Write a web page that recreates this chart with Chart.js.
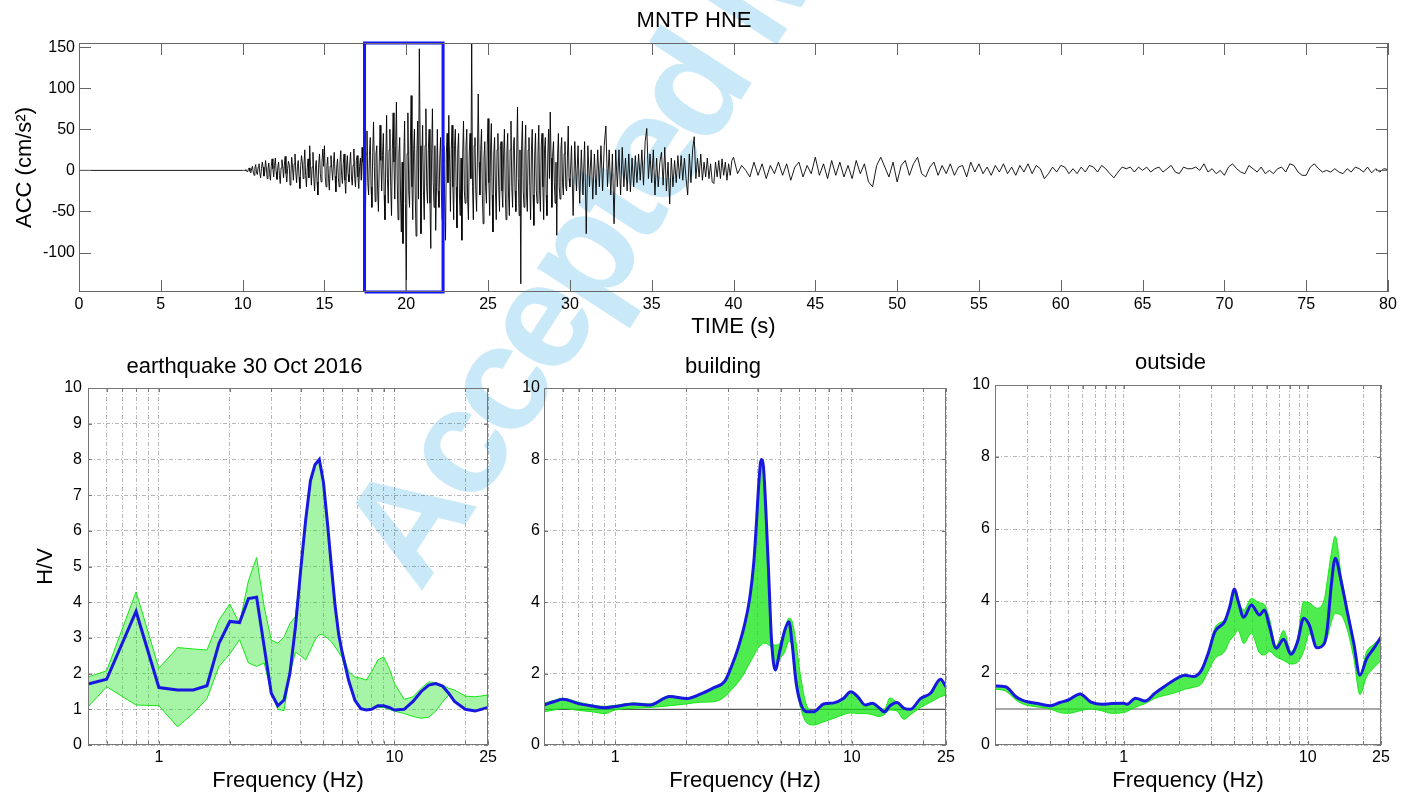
<!DOCTYPE html>
<html>
<head>
<meta charset="utf-8">
<script src="https://cdn.jsdelivr.net/npm/chart.js@4"></script>
<style>
  html, body { margin: 0; padding: 0; background: #fff; }
  body { width: 1411px; height: 794px; position: relative; overflow: hidden; }
  canvas { position: absolute; z-index: 1; }
  #wm {
    position: absolute; left: 420px; top: 467px; z-index: 0;
    font: bold 150px 'Liberation Sans', Arial, sans-serif; line-height: 1;
    letter-spacing: -8px; color: #c9e9f8; white-space: nowrap;
    transform-origin: 0 127px; transform: rotate(-57deg);
  }
</style>
</head>
<body>
<div id="wm">Accepted Manuscript</div>
<canvas id="acc" width="1411" height="340" style="left:0;top:0"></canvas>
<canvas id="hv1" width="500" height="454" style="left:0;top:340px"></canvas>
<canvas id="hv2" width="460" height="454" style="left:500px;top:340px"></canvas>
<canvas id="hv3" width="451" height="454" style="left:960px;top:340px"></canvas>
<script>
// ---- accelerogram MNTP HNE (cm/s^2) ----
const onsetStart = 10.0, onsetStep = 0.05;    // 10.00 .. 29.95 s
const accOnset = [
  0, 0, 0, 0, 1, -1, -2, 1, 3, -1, -3, 2, 5, -2, -6, 3, 7, -3, -5, 4,
  8, -3, -9, 2, 10, 4, -7, -2, 12, 3, -10, 2, 9, -4, -12, 5, 14, 2, -8, 6,
  15, -2, -11, 4, 10, -6, -16, 3, 13, 5, -9, 6, 17, -4, -14, 2, 11, 7, -18, -5,
  16, 4, -12, 8, 20, -3, -15, 5, 12, -8, -22, 6, 18, 9, -10, 7, 25, -6, -20, 3,
  14, -9, 30, 6, -18, 4, 22, -10, -25, 3, 12, -14, -30, 8, 20, -4, -14, 10, 26, 5,
  30, -8, -20, 6, 16, -10, -24, 5, 18, 2, -12, 8, 22, -7, -26, 4, 14, -9, -20, 10,
  24, -6, -16, 8, 20, -12, -28, 4, 18, -5, -14, 9, 22, -8, -18, 6, 26, -10, -20, 12,
  18, -8, -22, 5, 15, -12, 28, 10, -20, -8, -65, 20, 48, -15, -30, 18, 40, -20, -45, 22,
  59, 5, -38, 20, 30, -25, -50, 10, 55, 12, -25, 18, 45, -30, -60, 15, 67, -10, -40, 25,
  50, -20, -55, 25, 70, 10, -35, 30, 83, -15, -60, 20, 40, -30, -75, 10, -89, 15, 60, -40,
  -148, 20, 70, -25, -45, 30, 91, -20, -60, 25, 50, -30, -80, 20, 60, -35, 148, 30, -77, 10,
  55, -25, -60, 30, 75, -20, -40, 25, 50, -40, -95, 20, 75, -15, -45, 30, -73, -20, 50, -25,
  -45, 15, 40, -30, -60, 10, 30, -40, -85, 20, 45, -15, 67, 10, -50, 25, 55, -20, -60, 30,
  50, -20, -70, 25, 45, -30, -55, 15, -85, 20, 60, -25, -40, 30, 50, -35, -60, 20, 45, -10,
  154, -20, -60, 30, 40, -25, -50, 20, 93, 10, -30, 25, 50, -30, -65, 15, 35, -20, -40, 30,
  63, -15, -55, 25, 57, -30, -75, 20, 40, -25, -60, 25, 45, -20, -50, 30, 35, -25, -45, 20,
  50, -25, -60, 20, 45, -30, -55, 25, 60, -20, -45, 30, 40, -25, -50, 20, 77, -10, -55, 25,
  -138, 30, 60, -25, -45, 20, 55, -30, -50, 25, 40, -20, -60, 25, 50, -30, -67, 20, 45, -25,
  -40, 20, 55, -25, -50, 30, 45, -20, -60, 25, 40, -30, -55, 20, 50, -10, 71, 15, -45, 20,
  35, -15, -40, 10, -79, 20, 45, -20, -35, 25, 40, -15, -30, 20, 35, -20, -25, 15, 54, -10
];
const tailStart = 30.0, tailStep = 0.1;       // 30.0 .. 39.9 s
const accTail = [
  -20, 30, -55, 35, -25, 30, -40, 25, -30, 35,
  -77, 30, -20, 25, -35, 20, -30, 25, -20, 30,
  -25, 30, 54, -20, 25, -30, 20, -65, 25, -20,
  25, -30, 28, -20, 15, -25, 20, -26, 15, -20,
  18, -15, 20, -12, 25, -18, 35, 51, -10, 20,
  -15, 25, -30, 15, -20, 10, 22, -18, 28, -25,
  10, -41, 15, -20, 12, -15, 18, -10, 18, -12,
  15, -10, -30, 20, -15, 25, 41, -10, 15, -8,
  20, -12, 10, -8, 15, -10, 8, -14, -16, 10,
  -8, 12, -10, 14, -6, 10, -12, 8, -6, 12
];
const codaStart = 40.0, codaStep = 0.25;      // 40.0 .. 80.0 s
const accCoda = [
  16, -4, 6, 0,   -8, 10, -6, 8,   -10, 6, -4, 10,  -6, 8, -12, 4,
  10, -8, 6, -4,  16, -6, 8, -10,  12, -6, 10, -8,  6, -10, 12, -4,
  8, -14, -20, 6, 16, 4, -8, 10,   -14, 6, 12, -6,  8, 16, -4, -8,
  4, 10, -6, 6,   -4, 8, -6, 4,    6, -8, 10, -2,   8, -4, 4, -6,
  6, -2, 8, -4,   4, -6, 6, -2,    8, -4, 6, 2,     -10, -4, 4, -2,
  6, 4, -4, 2,    -4, 4, -2, 6,    4, -2, 6, 2,     -4, -9, -2, 4,
  2, 4, -2, 4,    0, 4, -2, 2,     4, -2, 2, 6,     -2, -4, 4, 2,
  2, 4, 0, 8,     -2, 2, -4, 0,    -6, 4, 8, 2,     -2, -4, 6, 2,
  -2, 4, -4, 0,   -4, 2, 4, -2,    8, 6, -2, -6,    -6, 4, 8, 2,
  -2, 0, -2, 2,   -2, -4, 2, -2,   4, 2, -2, 4,     -3, 2, -2, 2,
  1
];
const timeTicks = [0, 5, 10, 15, 20, 25, 30, 35, 40, 45, 50, 55, 60, 65, 70, 75, 80];
const accTicks = [-100, -50, 0, 50, 100, 150];
const accRange = [-148, 155];
const windowSec = [17.45, 22.25];

// ---- H/V spectral ratios ----
const f1 = [0.5, 0.6, 0.8, 1.0, 1.2, 1.4, 1.6, 1.8, 2.0, 2.2, 2.4, 2.6, 2.8, 3.0, 3.2, 3.4, 3.6, 3.8, 4.0, 4.2,
  4.4, 4.6, 4.8, 5.0, 5.2, 5.4, 5.6, 5.8, 6.0, 6.4, 6.8, 7.2, 7.6, 8.0, 8.5, 9.0, 9.5, 10, 11, 12,
  13, 14, 15, 16, 17, 18, 20, 22, 25];
const quakeBlue = [1.71, 1.84, 3.74, 1.61, 1.54, 1.54, 1.66, 2.85, 3.46, 3.43,
  4.10, 4.14, 2.75, 1.45, 1.10, 1.26, 2.00, 3.30, 4.90, 6.30,
  7.40, 7.85, 8.00, 7.35, 6.20, 5.00, 3.90, 3.10, 2.60, 1.80,
  1.25, 1.02, 0.98, 1.00, 1.10, 1.10, 1.05, 0.98, 1.00, 1.22,
  1.50, 1.68, 1.72, 1.65, 1.45, 1.22, 1.00, 0.95, 1.05];
const quakeHigh = [1.90, 2.08, 4.29, 2.15, 2.73, 2.69, 2.66, 3.50, 3.95, 3.40,
  4.60, 5.25, 3.87, 2.94, 2.85, 3.03, 3.40, 3.60, 4.90, 6.30,
  7.40, 7.85, 8.00, 7.35, 6.20, 5.00, 3.90, 3.10, 2.60, 2.05,
  1.90, 1.87, 1.82, 2.05, 2.38, 2.47, 2.15, 1.73, 1.28, 1.35,
  1.59, 1.77, 1.74, 1.68, 1.59, 1.54, 1.37, 1.35, 1.40];
const quakeLow = [1.07, 1.63, 1.12, 1.10, 0.51, 0.89, 1.30, 2.20, 2.55, 2.95,
  2.30, 2.20, 2.30, 1.45, 1.00, 0.96, 2.00, 2.60, 2.50, 2.38,
  2.66, 2.94, 3.10, 3.08, 2.99, 2.89, 2.75, 2.60, 2.45, 1.80,
  1.25, 1.02, 0.98, 1.00, 1.05, 1.05, 1.00, 0.95, 0.88, 0.80,
  0.75, 0.78, 0.95, 1.20, 1.40, 1.22, 1.00, 0.95, 1.05];

const f2 = [0.5, 0.55, 0.6, 0.7, 0.8, 0.9, 1.0, 1.2, 1.4, 1.7, 2.0, 2.3, 2.6, 2.9, 3.1, 3.3, 3.5, 3.7, 3.85, 3.95,
  4.05, 4.14, 4.23, 4.33, 4.45, 4.58, 4.75, 4.95, 5.2, 5.42, 5.6, 5.8, 6.05, 6.45, 6.9, 7.6, 8.4, 9.2, 9.9, 10.6,
  11.4, 12.2, 13.0, 13.7, 14.5, 15.5, 16.6, 17.7, 19.5, 21.5, 23.7, 25];
const buildingBlue = [1.12, 1.21, 1.28, 1.16, 1.09, 1.04, 1.08, 1.15, 1.12, 1.36,
  1.30, 1.43, 1.60, 1.78, 2.20, 2.70, 3.30, 4.10, 5.10, 6.20,
  7.40, 8.00, 7.80, 6.60, 4.80, 2.90, 2.10, 2.60, 3.20, 3.45,
  2.80, 1.80, 1.20, 0.93, 0.93, 1.15, 1.18, 1.30, 1.49, 1.35,
  1.12, 1.17, 1.05, 0.93, 1.10, 1.19, 1.03, 1.00, 1.30, 1.45,
  1.84, 1.63];
const buildingHigh = [1.17, 1.25, 1.31, 1.20, 1.12, 1.08, 1.11, 1.18, 1.15, 1.38,
  1.32, 1.44, 1.60, 1.78, 2.20, 2.70, 3.30, 4.10, 5.10, 6.20,
  7.40, 8.00, 7.80, 6.60, 4.80, 2.90, 2.80, 2.85, 3.25, 3.55,
  3.45, 2.90, 2.00, 1.10, 0.95, 1.15, 1.18, 1.30, 1.49, 1.35,
  1.12, 1.17, 1.05, 1.00, 1.32, 1.19, 1.05, 1.02, 1.30, 1.45,
  1.80, 1.60];
const buildingLow = [0.93, 0.98, 1.02, 0.97, 0.93, 0.88, 0.98, 1.03, 1.05, 1.10,
  1.15, 1.20, 1.21, 1.35, 1.55, 1.75, 2.00, 2.30, 2.50, 2.65,
  2.75, 2.80, 2.85, 2.85, 2.80, 2.70, 2.10, 2.40, 2.60, 2.90,
  2.75, 1.80, 1.10, 0.62, 0.56, 0.65, 0.75, 0.85, 0.90, 0.88,
  0.88, 0.85, 0.80, 0.85, 0.98, 0.95, 0.72, 0.85, 1.05, 1.20,
  1.35, 1.40];

const f3 = [0.2, 0.228, 0.26, 0.28, 0.3, 0.35, 0.4, 0.45, 0.5, 0.58, 0.66, 0.76, 0.86, 1.0, 1.04, 1.16, 1.31, 1.48, 1.68, 1.9,
  2.15, 2.39, 2.65, 2.88, 3.13, 3.54, 3.77, 4.0, 4.17, 4.49, 4.94, 5.47, 5.82, 6.2, 6.73, 7.4, 8.1, 8.8, 9.5, 10.2,
  11.2, 12.3, 12.8, 13.4, 14.1, 15.2, 16.4, 17.8, 19.2, 20.9, 22.9, 25];
const outsideBlue = [1.64, 1.62, 1.34, 1.25, 1.20, 1.14, 1.09, 1.18, 1.25, 1.42,
  1.20, 1.13, 1.15, 1.16, 1.13, 1.30, 1.22, 1.44, 1.64, 1.82,
  1.94, 1.90, 2.08, 2.55, 3.15, 3.43, 3.84, 4.33, 4.03, 3.55,
  3.89, 3.61, 3.75, 3.29, 2.69, 2.94, 2.52, 2.87, 3.52, 3.33,
  2.70, 2.82, 3.29, 4.40, 5.19, 4.54, 3.70, 2.82, 1.94, 2.40,
  2.69, 3.00];
const outsideHigh = [1.64, 1.62, 1.36, 1.27, 1.22, 1.15, 1.10, 1.18, 1.25, 1.42,
  1.22, 1.15, 1.15, 1.16, 1.14, 1.30, 1.22, 1.44, 1.64, 1.82,
  1.94, 1.90, 2.08, 2.60, 3.25, 3.50, 3.84, 4.33, 4.03, 3.75,
  4.07, 3.95, 3.90, 3.50, 2.75, 3.18, 2.60, 2.95, 3.98, 3.95,
  3.80, 4.05, 4.60, 5.30, 5.80, 4.70, 3.80, 2.90, 1.95, 2.60,
  2.80, 3.00];
const outsideLow = [1.55, 1.50, 1.25, 1.15, 1.10, 1.05, 1.00, 0.90, 0.88, 0.95,
  1.00, 0.95, 0.88, 0.90, 0.93, 1.05, 1.15, 1.30, 1.38, 1.45,
  1.55, 1.60, 1.70, 2.05, 2.40, 2.60, 2.90, 3.05, 3.20, 2.82,
  3.10, 2.56, 2.50, 2.60, 2.45, 2.35, 2.25, 2.30, 2.60, 3.10,
  2.70, 2.80, 3.00, 3.40, 3.65, 3.60, 3.20, 2.40, 1.40, 1.90,
  2.15, 2.35];

const hvLevel = 1;
const freqLabels = [1, 10, 25];
const gridFreqHigh = [0.6, 0.7, 0.8, 0.9, 1, 2, 3, 4, 5, 6, 7, 8, 9, 10, 20, 25];
const gridFreqOutside = [0.3, 0.4, 0.5, 0.6, 0.7, 0.8, 0.9, 1, 2, 3, 4, 5, 6, 7, 8, 9, 10, 20, 25];
const hvTicksFine = [0, 1, 2, 3, 4, 5, 6, 7, 8, 9, 10];
const hvTicksCoarse = [0, 2, 4, 6, 8, 10];

const FONT = "'Liberation Sans', Arial, sans-serif";
const GREEN = '#14e614';
const BLUE = '#1818e0';
Chart.defaults.font.family = FONT;
Chart.defaults.color = '#000';

// MATLAB-like box and inward ticks
const frameTicks = {
  id: 'frameTicks',
  afterDatasetsDraw(chart, args, opts) {
    const { ctx, chartArea: a, scales } = chart;
    ctx.save();
    ctx.strokeStyle = opts.color;
    ctx.lineWidth = 1;
    ctx.beginPath();
    opts.xTicks.forEach(v => {
      const px = Math.round(scales.x.getPixelForValue(v)) + 0.5;
      ctx.moveTo(px, a.bottom); ctx.lineTo(px, a.bottom - opts.len);
      ctx.moveTo(px, a.top); ctx.lineTo(px, a.top + opts.len);
    });
    opts.yTicks.forEach(v => {
      const py = Math.round(scales.y.getPixelForValue(v)) + 0.5;
      ctx.moveTo(a.left, py); ctx.lineTo(a.left + opts.len, py);
      ctx.moveTo(a.right, py); ctx.lineTo(a.right - opts.len, py);
    });
    ctx.stroke();
    ctx.strokeRect(Math.round(a.left) + 0.5, Math.round(a.top) + 0.5,
      Math.round(a.right - a.left) - 1, Math.round(a.bottom - a.top) - 1);
    ctx.restore();
  }
};

// top panel
const accPoints = [{ x: 0, y: 0 }]
  .concat(accOnset.map((v, i) => ({ x: onsetStart + i * onsetStep, y: v })))
  .concat(accTail.map((v, i) => ({ x: tailStart + i * tailStep, y: v })))
  .concat(accCoda.map((v, i) => ({ x: codaStart + i * codaStep, y: v })));
const boxPoints = [
  { x: windowSec[0], y: accRange[0] }, { x: windowSec[0], y: accRange[1] },
  { x: windowSec[1], y: accRange[1] }, { x: windowSec[1], y: accRange[0] },
  { x: windowSec[0], y: accRange[0] }
];

new Chart(document.getElementById('acc'), {
  type: 'line',
  data: { datasets: [
    { data: boxPoints, borderColor: '#1414ff', borderWidth: 3, pointRadius: 0, fill: false, clip: false, borderJoinStyle: 'miter' },
    { data: accPoints, borderColor: '#000', borderWidth: 0.9, pointRadius: 0, fill: false, tension: 0 }
  ]},
  options: {
    responsive: false, animation: false, events: [],
    layout: { padding: { left: 0, right: 23, top: 0, bottom: 0 } },
    plugins: {
      legend: { display: false }, tooltip: { enabled: false },
      title: { display: true, text: 'MNTP HNE', font: { size: 22, weight: 'normal' }, color: '#000', padding: { top: 8, bottom: 8.6 } },
      frameTicks: { color: '#666', len: 12, xTicks: timeTicks, yTicks: accTicks }
    },
    scales: {
      x: {
        type: 'linear', min: 0, max: 80,
        afterBuildTicks: s => { s.ticks = timeTicks.map(v => ({ value: v })); },
        afterFit: s => { s.height = 48; },
        grid: { display: false, drawTicks: false }, border: { display: false },
        ticks: { font: { size: 16 }, padding: 3, maxRotation: 0, autoSkip: false },
        title: { display: true, text: 'TIME (s)', font: { size: 22 }, padding: { top: 0, bottom: 0 } }
      },
      y: {
        min: accRange[0], max: accRange[1],
        afterBuildTicks: s => { s.ticks = accTicks.map(v => ({ value: v })); },
        afterFit: s => { s.width = 79; },
        grid: { display: false, drawTicks: false }, border: { display: false },
        ticks: { font: { size: 16 }, padding: 4 },
        title: { display: true, text: 'ACC (cm/s²)', font: { size: 22 }, padding: { top: 12, bottom: 0 } }
      }
    }
  },
  plugins: [frameTicks]
});

// bottom panels
function hvPanel(id, o) {
  const pts = ys => o.freqs.map((f, i) => ({ x: f, y: ys[i] }));
  const curve = { pointRadius: 0, tension: 0, cubicInterpolationMode: o.mode };
  const datasets = [
    Object.assign({ data: pts(o.blue), borderColor: BLUE, borderWidth: 3, fill: false }, curve),
    Object.assign({ data: pts(o.high), borderColor: GREEN, borderWidth: 1, fill: '+1', backgroundColor: o.fillColor }, curve),
    Object.assign({ data: pts(o.low), borderColor: GREEN, borderWidth: 1, fill: false }, curve)
  ];
  if (o.refLine) {
    datasets.push({ data: [{ x: o.xMin, y: hvLevel }, { x: 25, y: hvLevel }], borderColor: '#555', borderWidth: 1.2, pointRadius: 0, fill: false });
  }
  return new Chart(document.getElementById(id), {
    type: 'line',
    data: { datasets },
    options: {
      responsive: false, animation: false, events: [],
      layout: { padding: { left: 0, right: o.padRight, top: 0, bottom: 0 } },
      plugins: {
        legend: { display: false }, tooltip: { enabled: false },
        title: { display: true, text: o.title, font: { size: 22, weight: 'normal' }, color: '#000', padding: o.titlePad },
        frameTicks: { color: '#777', len: 4, xTicks: o.gridFreqs, yTicks: o.yTicks }
      },
      scales: {
        x: {
          type: 'logarithmic', min: o.xMin, max: 25,
          afterBuildTicks: s => { s.ticks = o.gridFreqs.map(v => ({ value: v })); },
          afterFit: s => { s.height = 49; },
          grid: { color: 'rgba(0,0,0,0.28)', lineWidth: 1, drawTicks: false },
          border: { display: false, dash: [4, 2, 1, 2] },
          ticks: { font: { size: 16 }, padding: 3, maxRotation: 0, autoSkip: false,
            callback: v => (freqLabels.includes(v) ? String(v) : '') },
          title: { display: true, text: 'Frequency (Hz)', font: { size: 22 }, padding: { top: 0, bottom: 0 } }
        },
        y: {
          min: 0, max: 10,
          afterBuildTicks: s => { s.ticks = o.yTicks.map(v => ({ value: v })); },
          afterFit: s => { s.width = o.yWidth; },
          grid: { color: 'rgba(0,0,0,0.28)', lineWidth: 1, drawTicks: false },
          border: { display: false, dash: [4, 2, 1, 2] },
          ticks: { font: { size: 16 }, padding: o.yPad },
          title: { display: !!o.yTitle, text: o.yTitle || '', font: { size: 22 }, padding: { top: 33, bottom: 0 } }
        }
      }
    },
    plugins: [frameTicks]
  });
}

hvPanel('hv1', {
  title: 'earthquake 30 Oct 2016', titlePad: { top: 13.5, bottom: 8.1 },
  freqs: f1, blue: quakeBlue, high: quakeHigh, low: quakeLow,
  fillColor: 'rgba(20,230,20,0.38)', mode: 'default', refLine: false,
  xMin: 0.5, gridFreqs: gridFreqHigh, yTicks: hvTicksFine,
  yWidth: 88, yPad: 6, padRight: 11, yTitle: 'H/V'
});
hvPanel('hv2', {
  title: 'building', titlePad: { top: 13.5, bottom: 8.1 },
  freqs: f2, blue: buildingBlue, high: buildingHigh, low: buildingLow,
  fillColor: 'rgba(20,230,20,0.75)', mode: 'monotone', refLine: true,
  xMin: 0.5, gridFreqs: gridFreqHigh, yTicks: hvTicksCoarse,
  yWidth: 44, yPad: 4, padRight: 14
});
hvPanel('hv3', {
  title: 'outside', titlePad: { top: 10.1, bottom: 8.5 },
  freqs: f3, blue: outsideBlue, high: outsideHigh, low: outsideLow,
  fillColor: 'rgba(20,230,20,0.75)', mode: 'monotone', refLine: true,
  xMin: 0.2, gridFreqs: gridFreqOutside, yTicks: hvTicksCoarse,
  yWidth: 35, yPad: 5, padRight: 30
});
</script>
</body>
</html>
